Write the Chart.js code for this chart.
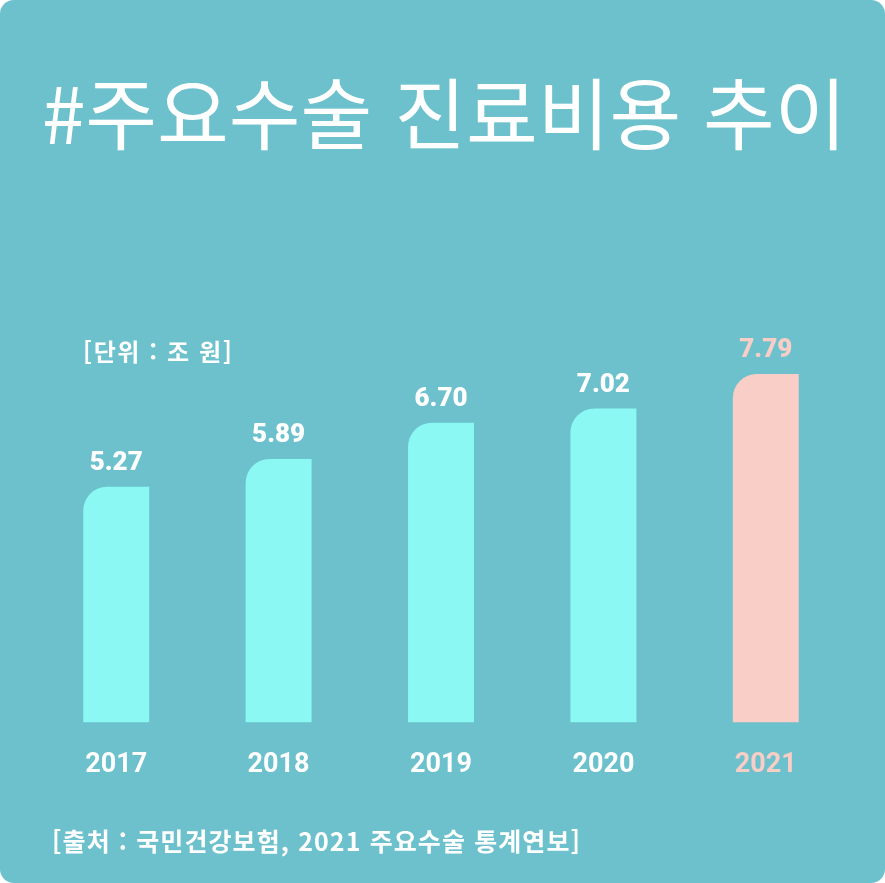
<!DOCTYPE html>
<html lang="ko">
<head>
<meta charset="utf-8">
<script src="https://cdn.jsdelivr.net/npm/chart.js@4"></script>
<style>
  html, body { margin: 0; padding: 0; background: #ffffff; }
  #card {
    position: relative;
    width: 885px; height: 883px;
    background: #6cc1cc;
    border-radius: 14px;
    overflow: hidden;
    font-family: "Noto Sans CJK KR", "Noto Sans", sans-serif;
  }
  #title {
    position: absolute; left: 42px; top: 64px; width: 840px;
    color: #ffffff; font-size: 78px; font-weight: 400;
    letter-spacing: 0px; white-space: nowrap; line-height: 1.2;
  }
  #unit {
    position: absolute; left: 83px; top: 333px;
    color: #ffffff; font-size: 24px; font-weight: 700;
    letter-spacing: 1.6px; white-space: nowrap;
  }
  #source {
    position: absolute; left: 52px; top: 822px;
    color: #ffffff; font-size: 25px; font-weight: 700;
    letter-spacing: 1.1px; white-space: nowrap;
  }
  #wrap { position: absolute; left: 0; top: 0; width: 885px; height: 883px; }
</style>
</head>
<body>
<div id="card">
  <div id="wrap"><canvas id="barChart"></canvas></div>
  <div id="title">#주요수술 진료비용 추이</div>
  <div id="unit">[단위 : 조 원]</div>
  <div id="source">[출처 : 국민건강보험, 2021 주요수술 통계연보]</div>
</div>
<script>
// data (unit: 조 원)
const years = ['2017', '2018', '2019', '2020', '2021'];
const costs = [5.27, 5.89, 6.70, 7.02, 7.79];
const highlightYear = '2021';

const baseColor = '#8cf8f4';
const highColor = '#f8cec6';
const barColors = years.map(y => y === highlightYear ? highColor : baseColor);
const labelColors = years.map(y => y === highlightYear ? highColor : '#ffffff');

// value labels above bars
const valueLabels = {
    id: 'valueLabels',
    afterDatasetsDraw(chart) {
        const ctx = chart.ctx;
        const meta = chart.getDatasetMeta(0);
        ctx.save();
        ctx.font = '900 26px Roboto';
        ctx.textAlign = 'center';
        ctx.textBaseline = 'middle';
        meta.data.forEach((bar, i) => {
            ctx.fillStyle = labelColors[i];
            ctx.fillText(costs[i].toFixed(2), bar.x, bar.y - 23);
        });
        ctx.restore();
    }
};

const ctx = document.getElementById('barChart').getContext('2d');
new Chart(ctx, {
    type: 'bar',
    data: {
        labels: years,
        datasets: [{
            data: costs,
            backgroundColor: barColors,
            borderRadius: { topLeft: 24, topRight: 0, bottomLeft: 0, bottomRight: 0 },
            borderSkipped: false,
            barPercentage: 0.406,
            categoryPercentage: 1
        }]
    },
    options: {
        responsive: true,
        maintainAspectRatio: false,
        animation: false,
        layout: { padding: { left: 35, right: 38, top: 275, bottom: 76 } },
        plugins: {
            legend: { display: false },
            tooltip: { enabled: false }
        },
        scales: {
            x: {
                grid: { display: false, drawTicks: false },
                border: { display: false },
                ticks: {
                    color: labelColors,
                    font: { family: 'Roboto', size: 27, weight: '700' },
                    padding: 26
                }
            },
            y: {
                display: false,
                min: 0,
                max: 10
            }
        }
    },
    plugins: [valueLabels]
});
</script>
</body>
</html>
